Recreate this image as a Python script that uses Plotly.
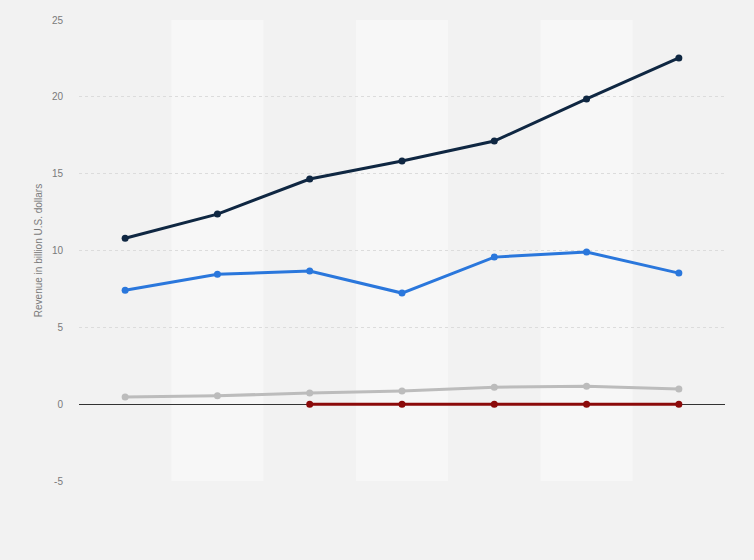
import plotly.graph_objects as go

categories = ["2012", "2013", "2014", "2015", "2016", "2017", "2018"]
series_navy = [10.8, 12.37, 14.65, 15.82, 17.12, 19.86, 22.53]
series_blue = [7.42, 8.46, 8.66, 7.23, 9.57, 9.9, 8.53]
series_gray = [0.46, 0.55, 0.72, 0.85, 1.1, 1.17, 0.98]
series_red = [None, None, 0, 0, 0, 0, 0]
y_ticks = [-5, 0, 5, 10, 15, 20, 25]
y_tick_labels = ["-5", "0", "5", "10", "15", "20", "25"]

fig = go.Figure()

# alternating background bands
for i in range(1, len(categories), 2):
    fig.add_shape(type="rect", xref="x", yref="y", x0=i - 0.5, x1=i + 0.5,
                  y0=-5, y1=25, fillcolor="#f7f7f7", line_width=0, layer="below")

def add(vals, color, name):
    fig.add_trace(go.Scatter(
        x=list(range(len(categories))), y=vals, mode="lines+markers", name=name,
        line=dict(color=color, width=3), marker=dict(color=color, size=7),
        connectgaps=False, showlegend=False))

add(series_gray, "#bcbcbc", "gray")
add(series_red, "#8b0a0a", "red")
add(series_blue, "#2a77dc", "blue")
add(series_navy, "#0f2742", "navy")

fig.update_layout(
    width=754, height=560,
    margin=dict(l=79, r=29, t=20, b=79),
    paper_bgcolor="#f2f2f2", plot_bgcolor="#f2f2f2",
    font=dict(family="Arial, Liberation Sans, sans-serif", color="#7a7a7a", size=10),
)
fig.update_xaxes(range=[-0.5, 6.5], showticklabels=False, showgrid=False,
                 zeroline=False, showline=False, tickvals=list(range(len(categories))),
                 ticktext=categories, ticks="")
fig.update_yaxes(range=[-5, 25], tickvals=y_ticks, ticktext=y_tick_labels,
                 showgrid=True, gridcolor="#dcdcdc",
                 griddash="dot", gridwidth=1, zeroline=True, zerolinecolor="#333333",
                 zerolinewidth=1, ticks="", ticklabelstandoff=15,
                 title=dict(text="Revenue in billion U.S. dollars", font=dict(size=10, color="#7a7a7a"),
                            standoff=7),
                 tickfont=dict(size=10, color="#7a7a7a"))

fig.write_html("out.html", config={"displayModeBar": False},
               post_script="document.body.style.margin='0px';")
